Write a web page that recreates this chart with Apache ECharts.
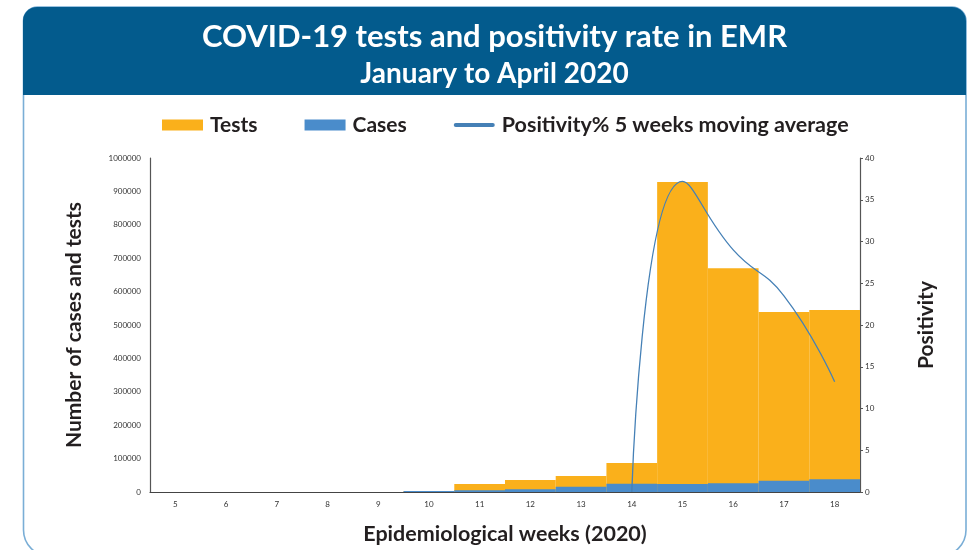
<!DOCTYPE html>
<html>
<head>
<meta charset="utf-8">
<script src="https://cdn.jsdelivr.net/npm/echarts@6/dist/echarts.min.js"></script>
<style>
  html, body { margin: 0; padding: 0; background: #fff; }
  #chart { width: 969px; height: 550px; }
</style>
</head>
<body>
<div id="chart"></div>
<script>
// data
var weeks = ["5", "6", "7", "8", "9", "10", "11", "12", "13", "14", "15", "16", "17", "18"];
var tests = [0, 0, 0, 0, 300, 3000, 24000, 36000, 48000, 87000, 928000, 670000, 539000, 545000];
var cases = [0, 0, 0, 0, 300, 3000, 5000, 8000, 16000, 25000, 24000, 26000, 34000, 38000];
var positivity = [null, null, null, null, null, null, null, null, null, 0, 37.2, 29, 23.5, 13.2];
var leftTicks = { min: 0, max: 1000000, interval: 100000 };
var rightTicks = { min: 0, max: 40, interval: 5 };

var FONT = "Lato";
var DARK = "#231f20";

var chart = echarts.init(document.getElementById("chart"));

var option = {
  backgroundColor: "#fff",
  animation: false,
  textStyle: { fontFamily: FONT },
  graphic: [
    {
      type: "rect",
      z: 0,
      shape: { x: 23.5, y: 7, width: 942.5, height: 549, r: [14, 14, 26, 26] },
      style: { fill: "#fff", stroke: "#7aaed6", lineWidth: 1.6 }
    },
    {
      type: "rect",
      z: 0,
      shape: { x: 23, y: 7, width: 943, height: 88, r: [14, 14, 0, 0] },
      style: { fill: "#035b8d" }
    },
    {
      type: "text",
      z: 1,
      x: 494.5,
      y: 37,
      style: {
        text: "COVID-19 tests and positivity rate in EMR",
        fill: "#fff",
        font: "bold 31px " + FONT,
        textAlign: "center",
        textVerticalAlign: "middle"
      }
    },
    {
      type: "text",
      z: 1,
      x: 494.5,
      y: 74,
      style: {
        text: "January to April 2020",
        fill: "#fff",
        font: "bold 28px " + FONT,
        textAlign: "center",
        textVerticalAlign: "middle"
      }
    }
  ],
  legend: {
    left: 157,
    top: 109,
    itemWidth: 41,
    itemHeight: 11,
    itemGap: 47,
    textStyle: { fontFamily: FONT, fontWeight: "bold", fontSize: 21, color: DARK, padding: [0, 0, 0, 2] },
    data: [
      { name: "Tests", icon: "rect" },
      { name: "Cases", icon: "rect" },
      {
        name: "Positivity% 5 weeks moving average",
        icon: "path://M2,0h37a2,2 0 0 1 0,4h-37a2,2 0 0 1 0,-4z",
        textStyle: { fontSize: 21.5 }
      }
    ]
  },
  grid: { left: 150, right: 109, top: 158, bottom: 58 },
  xAxis: {
    type: "category",
    data: weeks,
    boundaryGap: true,
    name: "Epidemiological weeks (2020)",
    nameLocation: "middle",
    nameGap: 31,
    nameTextStyle: { fontFamily: FONT, fontWeight: "bold", fontSize: 21.5, color: DARK },
    axisLine: { lineStyle: { color: "#444", width: 1.2 } },
    axisTick: { show: false },
    axisLabel: { fontSize: 8, color: "#333", margin: 8 }
  },
  yAxis: [
    {
      type: "value",
      min: leftTicks.min,
      max: leftTicks.max,
      interval: leftTicks.interval,
      name: "Number of cases and tests",
      nameLocation: "middle",
      nameRotate: 90,
      nameGap: 65,
      nameTextStyle: { fontFamily: FONT, fontWeight: "bold", fontSize: 21, color: DARK },
      splitLine: { show: false },
      axisLine: { show: true, lineStyle: { color: "#555", width: 1.2 } },
      axisTick: { show: false },
      axisLabel: { fontSize: 8, color: "#333", margin: 9, formatter: function (v) { return String(v); } }
    },
    {
      type: "value",
      position: "right",
      min: rightTicks.min,
      max: rightTicks.max,
      interval: rightTicks.interval,
      name: "Positivity",
      nameLocation: "middle",
      nameRotate: 90,
      nameGap: 56,
      nameTextStyle: { fontFamily: FONT, fontWeight: "bold", fontSize: 21, color: DARK },
      splitLine: { show: false },
      axisLine: { show: true, lineStyle: { color: "#555", width: 1.2 } },
      axisTick: { show: true, length: 3, lineStyle: { color: "#555" } },
      axisLabel: { fontSize: 8, color: "#333", margin: 5 }
    }
  ],
  series: [
    {
      name: "Tests",
      type: "bar",
      data: tests,
      barWidth: "100%",
      barGap: "-100%",
      itemStyle: { color: "#fab01b" }
    },
    {
      name: "Cases",
      type: "bar",
      data: cases,
      barWidth: "100%",
      barGap: "-100%",
      itemStyle: { color: "#4a8ccb" }
    },
    {
      name: "Positivity% 5 weeks moving average",
      type: "line",
      yAxisIndex: 1,
      data: positivity,
      smooth: 0.5,
      showSymbol: false,
      symbol: "none",
      lineStyle: { color: "#4580b6", width: 1.3 },
      itemStyle: { color: "#4580b6" },
      z: 5
    }
  ]
};

chart.setOption(option);
</script>
</body>
</html>
